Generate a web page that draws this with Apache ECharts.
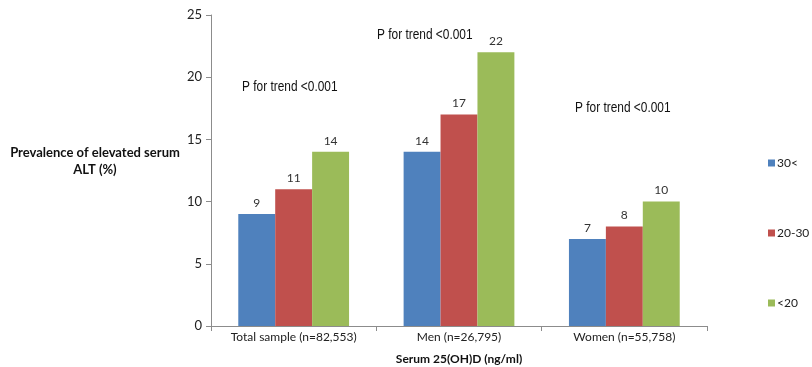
<!DOCTYPE html>
<html>
<head>
<meta charset="utf-8">
<script src="https://cdn.jsdelivr.net/npm/echarts@6/dist/echarts.min.js"></script>
<style>
  html, body { margin: 0; padding: 0; background: #fff; }
  #chart { width: 812px; height: 367px; }
</style>
</head>
<body>
<div id="chart"></div>
<script>
// Groups along the x axis
const categories = ['Total sample (n=82,553)', 'Men (n=26,795)', 'Women (n=55,758)'];
// Serum 25(OH)D strata (ng/ml)
const seriesNames = ['30<', '20-30', '<20'];
// Prevalence of elevated ALT (%) per stratum
const above30 = [9, 14, 7];
const from20to30 = [11, 17, 8];
const below20 = [14, 22, 10];
// Y axis ticks
const yTicks = [0, 5, 10, 15, 20, 25];
// Trend test note for each group
const trendNotes = ['P for trend <0.001', 'P for trend <0.001', 'P for trend <0.001'];

const colors = ['#4F81BD', '#C0504D', '#9BBB59'];
const values = [above30, from20to30, below20];
const axisFont = 'Lato, "Open Sans", sans-serif';
const noteFont = '"Liberation Sans", Arial, sans-serif';

// Condensed note text placed over the plot
function note(text, x, y) {
  return {
    type: 'text',
    x: x,
    y: y,
    scaleX: 0.85,
    style: { text: text, fontFamily: noteFont, fontSize: 14, fill: '#111' }
  };
}

const chart = echarts.init(document.getElementById('chart'));

chart.setOption({
  animation: false,
  grid: { left: 211, right: 105, top: 15, bottom: 41, outerBoundsMode: 'none', containLabel: false },
  legend: {
    orient: 'vertical',
    left: 763,
    top: 151,
    itemWidth: 7,
    itemHeight: 7,
    itemGap: 56,
    icon: 'rect',
    textStyle: { fontFamily: axisFont, fontSize: 12, color: '#222', padding: [0, 0, 0, -3], lineHeight: 14 },
    data: seriesNames
  },
  xAxis: {
    type: 'category',
    data: categories,
    name: 'Serum 25(OH)D (ng/ml)',
    nameLocation: 'middle',
    nameGap: 27,
    nameTextStyle: { fontFamily: axisFont, fontSize: 12, fontWeight: 'bold', color: '#111' },
    axisLine: { lineStyle: { color: '#8c8c8c' } },
    axisTick: { show: true, alignWithLabel: false, length: 5, lineStyle: { color: '#8c8c8c' } },
    axisLabel: { fontFamily: axisFont, fontSize: 12, color: '#222', margin: 5 }
  },
  yAxis: {
    type: 'value',
    min: yTicks[0],
    max: yTicks[yTicks.length - 1],
    interval: yTicks[1] - yTicks[0],
    splitLine: { show: false },
    axisLine: { show: true, lineStyle: { color: '#8c8c8c' } },
    axisTick: { show: true, length: 5, lineStyle: { color: '#8c8c8c' } },
    axisLabel: { fontFamily: axisFont, fontSize: 13, color: '#222', margin: 9 }
  },
  series: seriesNames.map((name, i) => ({
    name: name,
    type: 'bar',
    data: values[i],
    barGap: '0%',
    barCategoryGap: '33%',
    itemStyle: { color: colors[i] },
    label: {
      show: true,
      position: 'top',
      distance: 5,
      fontFamily: axisFont,
      fontSize: 12,
      color: '#333'
    }
  })),
  graphic: [
    {
      type: 'text',
      style: {
        text: 'Prevalence of elevated serum\nALT (%)',
        x: 95,
        y: 144,
        textAlign: 'center',
        fontFamily: axisFont,
        fontSize: 13,
        fontWeight: 'bold',
        lineHeight: 17,
        fill: '#111'
      }
    },
    note(trendNotes[0], 242, 80),
    note(trendNotes[1], 377, 28),
    note(trendNotes[2], 575, 101)
  ]
});
</script>
</body>
</html>
